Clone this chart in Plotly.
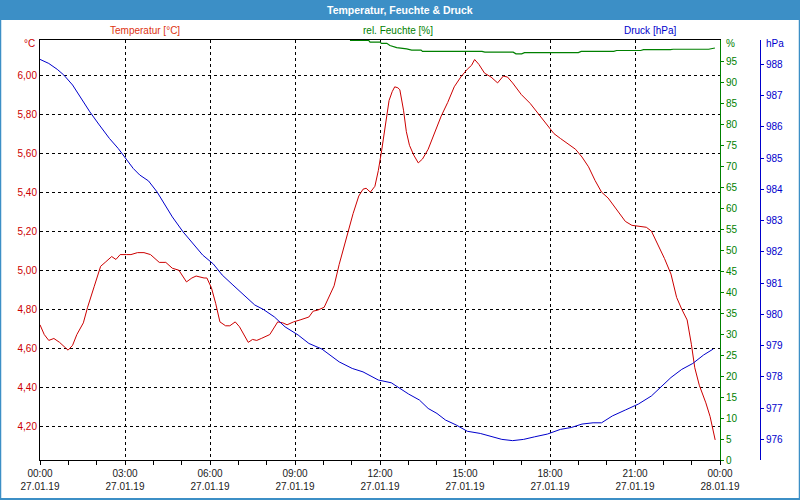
import plotly.graph_objects as go

# ---------------- data ----------------
temp_h = [0.00, 0.15, 0.31, 0.49, 0.69, 0.84, 0.99, 1.15, 1.30, 1.53, 1.68, 1.91, 2.14, 2.30, 2.53, 2.68, 2.83,
          3.06, 3.21, 3.44, 3.67, 3.90, 4.21, 4.44, 4.67, 4.90, 5.05, 5.17, 5.36, 5.51, 5.79, 5.89, 6.05,
          6.20, 6.35, 6.55, 6.70, 6.89, 7.04, 7.19, 7.35, 7.50, 7.65, 7.81, 8.11, 8.39, 8.57, 8.72, 8.95,
          9.18, 9.49, 9.64, 9.80, 10.03, 10.18, 10.38, 10.56, 10.71, 10.90, 11.05, 11.25, 11.40, 11.51,
          11.66, 11.82, 11.94, 12.06, 12.17, 12.32, 12.43, 12.52, 12.63, 12.70, 12.83, 12.93, 13.04, 13.19,
          13.35, 13.50, 13.70, 13.93, 14.16, 14.39, 14.62, 14.85, 15.08, 15.23, 15.34, 15.49, 15.69, 15.92,
          16.15, 16.35, 16.50, 16.68, 16.99, 17.30, 17.60, 17.91, 18.14, 18.37, 18.60, 18.90, 19.13, 19.36,
          19.59, 19.82, 20.05, 20.36, 20.66, 20.89, 21.20, 21.40, 21.58, 21.81, 22.04, 22.27, 22.47, 22.65,
          22.84, 22.99, 23.11, 23.27, 23.50, 23.65, 23.73, 23.83]
temp_c = [4.72, 4.67, 4.64, 4.65, 4.63, 4.61, 4.59, 4.615, 4.67, 4.73, 4.81, 4.915, 5.02, 5.04, 5.07, 5.055, 5.08,
          5.08, 5.08, 5.09, 5.09, 5.08, 5.04, 5.04, 5.01, 5.00, 4.97, 4.94, 4.96, 4.97, 4.96, 4.96, 4.91,
          4.83, 4.735, 4.715, 4.715, 4.735, 4.71, 4.67, 4.63, 4.645, 4.64, 4.65, 4.67, 4.735, 4.73, 4.72, 4.735,
          4.745, 4.76, 4.79, 4.795, 4.81, 4.86, 4.92, 5.03, 5.11, 5.21, 5.29, 5.38, 5.415, 5.42,
          5.40, 5.43, 5.51, 5.615, 5.735, 5.87, 5.915, 5.94, 5.935, 5.925, 5.82, 5.71, 5.64, 5.59,
          5.55, 5.57, 5.62, 5.71, 5.79, 5.86, 5.94, 5.99, 6.03, 6.05, 6.08, 6.055, 6.01, 5.99,
          5.96, 5.995, 5.99, 5.96, 5.90, 5.855, 5.80, 5.74, 5.70, 5.675, 5.65, 5.62, 5.58, 5.53,
          5.46, 5.40, 5.37, 5.31, 5.25, 5.23, 5.225, 5.22, 5.20, 5.13, 5.06, 4.98, 4.86, 4.80,
          4.745, 4.62, 4.50, 4.41, 4.32, 4.25, 4.20, 4.13]

hum_h = [10.94, 11.6, 11.65, 12.0, 12.05, 12.24, 12.35, 12.59, 12.94, 13.12, 13.45, 13.5, 15.6, 15.7,
         16.7, 16.8, 17.0, 17.1, 19.0, 19.1, 20.25, 20.35, 21.2, 21.3, 22.25, 22.35, 23.6, 23.82]
hum_pct = [99.9, 99.9, 99.5, 99.5, 99.2, 99.2, 98.7, 98.2, 97.9, 97.6, 97.6, 97.3, 97.3, 97.1,
           97.1, 96.7, 96.7, 97.0, 97.0, 97.3, 97.3, 97.5, 97.5, 97.7, 97.7, 97.8, 97.8, 98.1]

pres_h = [0.00, 0.31, 0.61, 0.84, 1.15, 1.45, 1.76, 2.07, 2.45, 2.76, 3.06, 3.29, 3.52, 3.83, 4.13, 4.44,
          4.67, 5.05, 5.43, 5.74, 6.12, 6.43, 6.81, 7.19, 7.58, 7.88, 8.27, 8.65, 9.11, 9.49, 9.95, 10.56,
          11.02, 11.40, 11.94, 12.40, 12.70, 13.01, 13.39, 13.70, 14.01, 14.31, 14.69, 15.08, 15.54, 15.92,
          16.30, 16.68, 17.07, 17.45, 17.91, 18.37, 18.75, 19.13, 19.52, 19.82, 20.20, 20.66, 21.12, 21.58,
          21.89, 22.27, 22.65, 23.04, 23.42, 23.76]
pres_hpa = [988.16, 988.03, 987.84, 987.66, 987.34, 986.91, 986.48, 986.09, 985.63, 985.31, 984.94, 984.67,
            984.46, 984.27, 983.92, 983.44, 983.12, 982.64, 982.22, 981.90, 981.61, 981.26, 980.94, 980.62,
            980.30, 980.16, 979.92, 979.60, 979.34, 979.07, 978.89, 978.48, 978.27, 978.16, 977.90, 977.81,
            977.63, 977.45, 977.26, 976.99, 976.83, 976.62, 976.46, 976.26, 976.19, 976.10, 976.00, 975.96,
            976.00, 976.08, 976.17, 976.32, 976.38, 976.49, 976.53, 976.53, 976.75, 976.94, 977.13, 977.39,
            977.66, 977.98, 978.24, 978.43, 978.70, 978.89]

x_tickvals = [0, 3, 6, 9, 12, 15, 18, 21, 24]
x_time = ["00:00", "03:00", "06:00", "09:00", "12:00", "15:00", "18:00", "21:00", "00:00"]
x_date = ["27.01.19"] * 8 + ["28.01.19"]
temp_ticks = [4.2, 4.4, 4.6, 4.8, 5.0, 5.2, 5.4, 5.6, 5.8, 6.0]
temp_labels = ["4,20", "4,40", "4,60", "4,80", "5,00", "5,20", "5,40", "5,60", "5,80", "6,00"]
hum_ticks = list(range(0, 100, 5))
pres_ticks = list(range(976, 989))

RED = "#cc0000"
GREEN = "#008000"
BLUE = "#0000cc"
FRAME = "#3c8fc6"
FONT = "Liberation Sans"

# layout helpers (pixel -> paper)
L, R, T, B = 40, 40, 40, 40
PW, PH = 800 - L - R, 500 - T - B


def px(x):
    return (x - L) / PW


def py(y):
    return (500 - B - y) / PH


fig = go.Figure()
fig.add_trace(go.Scatter(x=pres_h, y=pres_hpa, mode="lines", line=dict(color=BLUE, width=1),
                         yaxis="y3", hoverinfo="skip"))
fig.add_trace(go.Scatter(x=hum_h, y=hum_pct, mode="lines", line=dict(color=GREEN, width=1.2),
                         yaxis="y2", hoverinfo="skip"))
fig.add_trace(go.Scatter(x=temp_h, y=temp_c, mode="lines", line=dict(color=RED, width=1),
                         yaxis="y", hoverinfo="skip"))

fig.update_layout(
    width=800, height=500,
    margin=dict(l=L, r=R, t=T, b=B, pad=0, autoexpand=False),
    paper_bgcolor="white", plot_bgcolor="white",
    showlegend=False,
    font=dict(family=FONT, size=10, color="#111111"),
    xaxis=dict(
        domain=[0, px(720)], range=[0, 24], automargin=False,
        tickmode="array", tickvals=x_tickvals,
        ticktext=[f"{t}<br>{d}" for t, d in zip(x_time, x_date)],
        showgrid=True, gridcolor="black", gridwidth=1, griddash="3px,3px",
        showline=True, linecolor="black", linewidth=1, mirror=True,
        ticks="outside", ticklen=4, tickcolor="black", tickwidth=1,
        minor=dict(tickmode="linear", tick0=0, dtick=1, ticks="outside", ticklen=4,
                   tickcolor="black", showgrid=False),
        zeroline=False, tickfont=dict(size=10, color="#1a1a1a"),
    ),
    yaxis=dict(
        range=[4.027, 6.18], tickmode="array", tickvals=temp_ticks, ticktext=temp_labels,
        automargin=False,
        showgrid=True, gridcolor="black", gridwidth=1, griddash="3px,3px",
        showline=True, linecolor="black", linewidth=1,
        ticks="", zeroline=False, tickfont=dict(size=10, color=RED),
    ),
    yaxis2=dict(
        overlaying="y", side="right", anchor="x", range=[0, 100], automargin=False,
        tickmode="array", tickvals=hum_ticks,
        showgrid=False, zeroline=False,
        showline=True, linecolor=GREEN, linewidth=1,
        ticks="outside", ticklen=3, tickcolor=GREEN,
        tickfont=dict(size=10, color=GREEN),
    ),
    yaxis3=dict(
        overlaying="y", side="right", anchor="free", position=1.0, automargin=False,
        range=[975.34, 988.78], tickmode="array", tickvals=pres_ticks,
        showgrid=False, zeroline=False,
        showline=True, linecolor=BLUE, linewidth=1,
        ticks="outside", ticklen=3, tickcolor=BLUE,
        tickfont=dict(size=10, color=BLUE),
    ),
)

shapes = [
    dict(type="rect", xref="paper", yref="paper", x0=px(0), x1=px(800), y0=py(20), y1=py(0),
         fillcolor=FRAME, line=dict(width=0), layer="above"),
    dict(type="line", xref="paper", yref="paper", x0=px(0.5), x1=px(0.5), y0=py(20), y1=py(500),
         line=dict(color=FRAME, width=1.5)),
    dict(type="line", xref="paper", yref="paper", x0=px(799.5), x1=px(799.5), y0=py(20), y1=py(500),
         line=dict(color=FRAME, width=1.5)),
    dict(type="line", xref="paper", yref="paper", x0=px(0), x1=px(800), y0=py(499), y1=py(499),
         line=dict(color=FRAME, width=2)),
]
fig.update_layout(shapes=shapes)

ann = [
    dict(text="<b>Temperatur, Feuchte & Druck</b>", x=px(400), y=py(10), font=dict(size=10.5, color="white"),
         xanchor="center", yanchor="middle"),
    dict(text="Temperatur [°C]", x=px(145), y=py(30), font=dict(size=10, color="#dd3311"),
         xanchor="center", yanchor="middle"),
    dict(text="rel. Feuchte [%]", x=px(398), y=py(30), font=dict(size=10, color=GREEN),
         xanchor="center", yanchor="middle"),
    dict(text="Druck [hPa]", x=px(650), y=py(30), font=dict(size=10, color=BLUE),
         xanchor="center", yanchor="middle"),
    dict(text="°C", x=px(37), y=py(44), font=dict(size=10, color=RED), xanchor="right", yanchor="middle"),
    dict(text="%", x=px(724), y=py(44), font=dict(size=10, color=GREEN), xanchor="left", yanchor="middle"),
    dict(text="hPa", x=px(764), y=py(44), font=dict(size=10, color=BLUE), xanchor="left", yanchor="middle"),
]
for a in ann:
    a.update(xref="paper", yref="paper", showarrow=False)
fig.update_layout(annotations=ann)

fig.write_html(
    "out.html",
    config={"displayModeBar": False},
    post_script="document.body.style.margin='0';document.body.style.padding='0';"
                "document.body.style.overflow='hidden';",
)
